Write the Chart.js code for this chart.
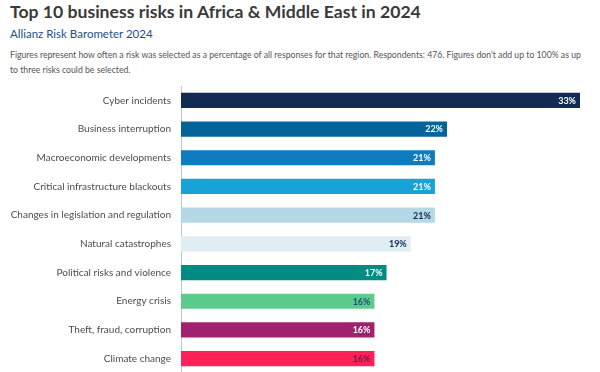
<!DOCTYPE html>
<html lang="en">
<head>
    <meta charset="UTF-8">
    <title>Top 10 business risks in Africa & Middle East in 2024</title>
    <script src="https://cdn.jsdelivr.net/npm/chart.js"></script>
    <style>
        body { margin: 0; width: 600px; height: 372px; overflow: hidden; background: #fff; font-family: Lato, "Noto Sans", sans-serif; }
        h1 { position: absolute; left: 10px; top: 1px; margin: 0; font-size: 17.6px; font-weight: 700; color: #3a3a3a; }
        h2 { position: absolute; left: 10px; top: 27px; margin: 0; font-size: 11.5px; font-weight: 400; color: #1f4e8c; }
        p { position: absolute; left: 10px; top: 47px; margin: 0; font-size: 8.7px; line-height: 15px; color: #555; white-space: nowrap; }
        #wrap { position: absolute; left: 0; top: 70px; width: 600px; height: 319px; }
    </style>
</head>
<body>
    <h1>Top 10 business risks in Africa &amp; Middle East in 2024</h1>
    <h2>Allianz Risk Barometer 2024</h2>
    <p>Figures represent how often a risk was selected as a percentage of all responses for that region. Respondents: 476. Figures don't add up to 100% as up<br>to three risks could be selected.</p>
    <div id="wrap"><canvas id="chart"></canvas></div>
    <script>
        // data
        const risks = [
            'Cyber incidents',
            'Business interruption',
            'Macroeconomic developments',
            'Critical infrastructure blackouts',
            'Changes in legislation and regulation',
            'Natural catastrophes',
            'Political risks and violence',
            'Energy crisis',
            'Theft, fraud, corruption',
            'Climate change'
        ];
        const shares = [33, 22, 21, 21, 21, 19, 17, 16, 16, 16];
        const barColors = ['#132a55', '#04649a', '#0f7cbf', '#17a2d8', '#b5d8e6', '#e0eef3', '#008c82', '#5dcb8b', '#a0226c', '#ff2057'];
        const labelColors = ['#fff', '#fff', '#fff', '#fff', '#132a55', '#132a55', '#fff', '#1f4f6e', '#fff', '#6e1a50'];

        // percent label at the end of each bar
        const endLabels = {
            id: 'endLabels',
            afterDatasetsDraw(chart) {
                const ctx = chart.ctx;
                const meta = chart.getDatasetMeta(0);
                ctx.save();
                ctx.font = 'bold 9px Lato, sans-serif';
                ctx.textAlign = 'right';
                ctx.textBaseline = 'middle';
                meta.data.forEach((bar, i) => {
                    ctx.fillStyle = labelColors[i];
                    ctx.fillText(shares[i] + '%', bar.x - 4, bar.y + 0.5);
                });
                ctx.restore();
            }
        };

        new Chart(document.getElementById('chart'), {
            type: 'bar',
            data: {
                labels: risks,
                datasets: [{
                    data: shares,
                    backgroundColor: barColors,
                    barPercentage: 0.53,
                    categoryPercentage: 1
                }]
            },
            options: {
                indexAxis: 'y',
                responsive: true,
                maintainAspectRatio: false,
                animation: false,
                layout: { padding: { top: 0, bottom: 0, right: 20 } },
                plugins: { legend: { display: false }, tooltip: { enabled: false } },
                scales: {
                    x: { display: false, min: 0, max: 33 },
                    y: {
                        grid: { display: false, drawTicks: false },
                        border: { display: true, color: '#b9cbd2', width: 1 },
                        ticks: { padding: 10, color: '#4d4d4d', font: { family: 'Lato', size: 10 } },
                        afterFit(scale) { scale.width = 181; }
                    }
                }
            },
            plugins: [endLabels]
        });
    </script>
</body>
</html>
